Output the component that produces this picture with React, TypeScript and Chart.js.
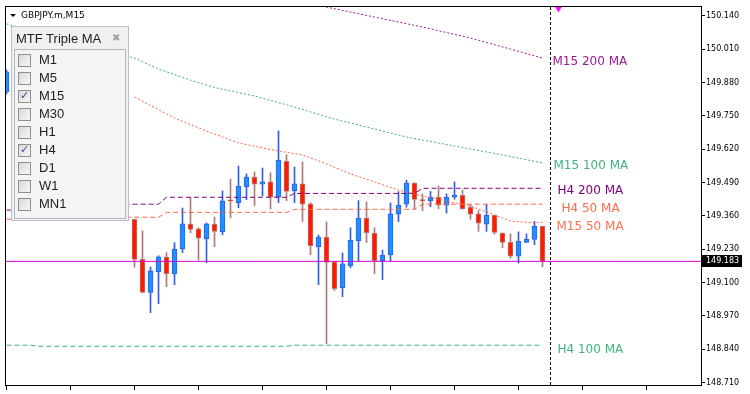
import React, { useEffect, useRef } from 'react';
import { Chart, registerables } from 'chart.js';

Chart.register(...registerables);

// ---- axis ----
const Y_TICKS = [150.14, 150.01, 149.88, 149.75, 149.62, 149.49, 149.36, 149.23, 149.1, 148.97, 148.84, 148.71];
const Y_MAX = 150.1751;
const Y_MIN = 148.7008;
const X_MIN = -1 / 16;
const X_MAX = X_MIN + 695 / 8;
const X_TICKS = [0, 8, 16, 24, 32, 40, 48, 56, 64, 72, 80];

// ---- candles (bar index 0..67, bars 1..15 are hidden behind the panel) ----
const OPEN = [149.844, null, null, null, null, null, null, null, null, null, null, null, null, null, null, null,
  149.347, 149.191, 149.062, 149.143, 149.200, 149.135, 149.232, 149.328, 149.310, 149.271,
  149.328, 149.299, 149.420, 149.412, 149.474, 149.512, 149.484, 149.493, 149.433, 149.573,
  149.459, 149.485, 149.407, 149.240, 149.278, 149.181, 149.080, 149.166, 149.264, 149.352,
  149.293, 149.186, 149.209, 149.367, 149.406, 149.488, 149.421, 149.420, 149.433, 149.402,
  149.433, 149.441, 149.394, 149.368, 149.328, 149.363, 149.293, 149.257, 149.203, 149.257,
  149.269, 149.320];
const HIGH = [149.929, null, null, null, null, null, null, null, null, null, null, null, null, null, null, null,
  149.347, 149.302, 149.161, 149.205, 149.217, 149.256, 149.391, 149.433, 149.314, 149.333,
  149.356, 149.458, 149.504, 149.555, 149.524, 149.532, 149.547, 149.529, 149.692, 149.599,
  149.551, 149.571, 149.412, 149.286, 149.337, 149.181, 149.216, 149.314, 149.420, 149.415,
  149.314, 149.227, 149.411, 149.455, 149.500, 149.490, 149.446, 149.456, 149.477, 149.446,
  149.493, 149.461, 149.404, 149.381, 149.404, 149.364, 149.294, 149.290, 149.298, 149.290,
  149.339, 149.321];
const LOW = [149.836, null, null, null, null, null, null, null, null, null, null, null, null, null, null, null,
  149.160, 149.060, 148.983, 149.018, 149.084, 149.092, 149.217, 149.295, 149.188, 149.178,
  149.240, 149.287, 149.353, 149.392, 149.424, 149.400, 149.438, 149.388, 149.412, 149.420,
  149.412, 149.338, 149.209, 149.092, 148.862, 149.069, 149.045, 149.158, 149.183, 149.256,
  149.135, 149.112, 149.183, 149.338, 149.394, 149.386, 149.381, 149.396, 149.388, 149.371,
  149.425, 149.386, 149.347, 149.300, 149.300, 149.289, 149.236, 149.195, 149.176, 149.257,
  149.248, 149.162];
const CLOSE = [149.922, null, null, null, null, null, null, null, null, null, null, null, null, null, null, null,
  149.191, 149.062, 149.146, 149.201, 149.135, 149.231, 149.329, 149.308, 149.273, 149.329,
  149.300, 149.419, 149.419, 149.477, 149.512, 149.484, 149.493, 149.433, 149.578, 149.456,
  149.485, 149.406, 149.244, 149.278, 149.179, 149.077, 149.173, 149.266, 149.352, 149.295,
  149.186, 149.208, 149.368, 149.402, 149.488, 149.425, 149.420, 149.433, 149.402, 149.433,
  149.442, 149.388, 149.367, 149.332, 149.363, 149.296, 149.257, 149.203, 149.261, 149.269,
  149.320, 149.183];

const BID = 149.183;
const NOW_LINE_BAR = 68;
const SHIFT_MARKER_BAR = 69;

// ---- M15 moving averages (read at selected bars) ----
const M15_200_BARS = [38, 40, 46, 52, 58, 63, 67];
const M15_200_VALUES = [150.191, 150.175, 150.136, 150.097, 150.054, 150.011, 149.976];
const M15_100_BARS = [0, 16, 19, 23, 26, 31, 36, 41, 45, 50, 56, 62, 67];
const M15_100_VALUES = [150.109, 149.976, 149.933, 149.890, 149.861, 149.828, 149.785, 149.738, 149.707, 149.668, 149.633, 149.598, 149.567];
const M15_50_BARS = [16, 21, 25, 29, 33, 37, 40, 43, 46, 49, 52, 55, 58, 61, 63, 66, 67];
const M15_50_VALUES = [149.824, 149.742, 149.691, 149.645, 149.619, 149.598, 149.563, 149.524, 149.493, 149.461, 149.438, 149.418, 149.399, 149.364, 149.340, 149.333, 149.336];

// ---- H4 moving averages (one value per H4 bar) ----
const H4_BLOCK_START = [0, 4, 20, 36, 52];
const LAST_BAR = 67;
const H4_200_VALUES = [149.383, 149.406, 149.433, 149.448, 149.468];
const H4_100_VALUES = [148.856, 148.852, 148.852, 148.856, 148.856];
const H4_50_VALUES = [149.348, 149.355, 149.374, 149.386, 149.406];

const LABELS = ['M15 200 MA', 'M15 100 MA', 'H4 200 MA', 'H4 50 MA', 'M15 50 MA', 'H4 100 MA'];
const PANEL_ITEMS = ['M1', 'M5', 'M15', 'M30', 'H1', 'H4', 'D1', 'W1', 'MN1'];
const PANEL_CHECKED = [false, false, true, false, false, true, false, false, false];

// ---- styles ----
const C_M15_200 = '#9a1a9a';
const C_H4_200 = '#800080';
const C_100 = '#3cb371';
const C_50 = '#ff6347';
const C_BID = '#d800d8';
const BULL_FILL = '#1e90ff';
const BULL_LINE = '#2f5fe8';
const BEAR_FILL = '#ff1a00';
const BEAR_LINE = '#b07a76';
const LABEL_STYLE = [
  { color: C_M15_200, dx: 2, dy: 4 },
  { color: '#3fb47e', dx: 3, dy: 2.5 },
  { color: C_H4_200, dx: 7, dy: 3 },
  { color: '#ff6a4a', dx: 11, dy: 4.5 },
  { color: '#ff6f50', dx: 6, dy: 5 },
  { color: '#3fb47e', dx: 7, dy: 4.3 },
];

const toPoints = (bars: number[], vals: number[]) => bars.map((b, k) => ({ x: b, y: vals[k] }));
const h4Points = (vals: number[]) => {
  const pts: { x: number; y: number }[] = [];
  for (let b = 0; b <= LAST_BAR; b++) {
    let k = 0;
    for (let j = 0; j < H4_BLOCK_START.length; j++) if (b >= H4_BLOCK_START[j]) k = j;
    pts.push({ x: b, y: vals[k] });
  }
  return pts;
};

const candleBars: number[] = [];
OPEN.forEach((o, i) => { if (o != null) candleBars.push(i); });
const isBull = (i: number) => (CLOSE[i] as number) > (OPEN[i] as number);

const FONT = 'DejaVu Sans';

export default function App() {
  const ref = useRef<HTMLCanvasElement>(null);

  useEffect(() => {
    Chart.defaults.font.family = FONT;
    const lastValues = [
      M15_200_VALUES[M15_200_VALUES.length - 1],
      M15_100_VALUES[M15_100_VALUES.length - 1],
      H4_200_VALUES[H4_200_VALUES.length - 1],
      H4_50_VALUES[H4_50_VALUES.length - 1],
      M15_50_VALUES[M15_50_VALUES.length - 1],
      H4_100_VALUES[H4_100_VALUES.length - 1],
    ];

    const overlay = {
      id: 'overlay',
      afterDatasetsDraw(chart: any) {
        const { ctx, scales } = chart;
        const xs = scales.x, ys = scales.y;
        ctx.save();
        ctx.font = `12px "${FONT}"`;
        ctx.textBaseline = 'middle';
        ctx.textAlign = 'left';
        LABELS.forEach((t, k) => {
          const st = LABEL_STYLE[k];
          ctx.fillStyle = st.color;
          ctx.fillText(t, xs.getPixelForValue(NOW_LINE_BAR) + st.dx, ys.getPixelForValue(lastValues[k]) + st.dy);
        });
        ctx.restore();
      },
      afterDraw(chart: any) {
        const { ctx, chartArea: a, scales } = chart;
        ctx.save();
        ctx.strokeStyle = '#000';
        ctx.lineWidth = 1;
        ctx.strokeRect(Math.floor(a.left) - 0.5, Math.floor(a.top) - 0.5, Math.round(a.right - a.left) + 1, Math.round(a.bottom - a.top) + 1);
        // bid price box
        const y = scales.y.getPixelForValue(BID);
        ctx.fillStyle = '#000';
        ctx.fillRect(a.right + 1, Math.round(y) - 6, 40, 12);
        ctx.fillStyle = '#fff';
        ctx.font = `8px "${FONT}"`;
        ctx.textBaseline = 'middle';
        ctx.fillText(BID.toFixed(3), a.right + 5, y);
        ctx.restore();
      },
    };

    const lineBase = { type: 'line', pointRadius: 0, borderWidth: 1, tension: 0, fill: false };

    const chart = new Chart(ref.current as HTMLCanvasElement, {
      type: 'bar',
      data: {
        datasets: [
          {
            ...lineBase, label: 'shift', showLine: false, order: 0,
            data: [{ x: SHIFT_MARKER_BAR, y: Y_MAX }],
            pointRadius: 5.5, pointStyle: 'triangle', rotation: 180,
            pointBackgroundColor: '#ff00ff', pointBorderWidth: 0, borderColor: '#ff00ff',
          },
          { ...lineBase, label: 'now', order: 1, borderColor: '#000', borderDash: [3, 2], data: [{ x: NOW_LINE_BAR, y: Y_MIN }, { x: NOW_LINE_BAR, y: Y_MAX }] },
          { ...lineBase, label: 'bid', order: 2, borderColor: C_BID, data: [{ x: X_MIN, y: BID }, { x: X_MAX, y: BID }] },
          { ...lineBase, label: 'M15 200 MA', order: 3, borderColor: C_M15_200, borderDash: [2, 2], data: toPoints(M15_200_BARS, M15_200_VALUES) },
          { ...lineBase, label: 'M15 100 MA', order: 3, borderColor: C_100, borderDash: [2, 2], data: toPoints(M15_100_BARS, M15_100_VALUES) },
          { ...lineBase, label: 'M15 50 MA', order: 3, borderColor: C_50, borderDash: [2, 2], data: toPoints(M15_50_BARS, M15_50_VALUES) },
          { ...lineBase, label: 'H4 200 MA', order: 3, borderColor: C_H4_200, borderDash: [5, 3], data: h4Points(H4_200_VALUES) },
          { ...lineBase, label: 'H4 100 MA', order: 3, borderColor: C_100, borderDash: [5, 3], data: h4Points(H4_100_VALUES) },
          { ...lineBase, label: 'H4 50 MA', order: 3, borderColor: C_50, borderDash: [5, 3], data: h4Points(H4_50_VALUES) },
          {
            type: 'bar', label: 'body', order: 8, grouped: false, barThickness: 5, minBarLength: 1,
            borderWidth: 1, borderSkipped: false,
            data: candleBars.map((i) => ({ x: i, y: [OPEN[i], CLOSE[i]] })),
            backgroundColor: (c: any) => (isBull(candleBars[c.dataIndex]) ? BULL_FILL : BEAR_FILL),
            borderColor: (c: any) => (isBull(candleBars[c.dataIndex]) ? BULL_LINE : BEAR_LINE),
          },
          {
            type: 'bar', label: 'wick', order: 9, grouped: false, barThickness: 1, borderWidth: 0,
            data: candleBars.map((i) => ({ x: i, y: [LOW[i], HIGH[i]] })),
            backgroundColor: (c: any) => (isBull(candleBars[c.dataIndex]) ? BULL_LINE : BEAR_LINE),
          },
        ] as any,
      },
      options: {
        responsive: false,
        devicePixelRatio: 1,
        animation: false,
        events: [],
        layout: { padding: { left: 6, top: 7, right: 0, bottom: 0 } },
        plugins: { legend: { display: false }, tooltip: { enabled: false }, title: { display: false } },
        scales: {
          x: {
            type: 'linear', position: 'bottom', min: X_MIN, max: X_MAX, offset: false,
            afterBuildTicks: (s: any) => { s.ticks = X_TICKS.map((v) => ({ value: v })); },
            afterFit: (s: any) => { s.height = 9; },
            ticks: { autoSkip: false, callback: () => '' },
            grid: { drawOnChartArea: false, drawTicks: true, tickLength: 5, color: '#000', offset: false },
            border: { display: true, color: '#000' },
          },
          y: {
            type: 'linear', position: 'right', min: Y_MIN, max: Y_MAX,
            afterBuildTicks: (s: any) => { s.ticks = Y_TICKS.map((v) => ({ value: v })); },
            afterFit: (s: any) => { s.width = 49; },
            ticks: {
              autoSkip: false, padding: 1, color: '#000',
              font: { family: FONT, size: 8 },
              callback: (v: any) => Number(v).toFixed(3),
            },
            grid: { drawOnChartArea: false, drawTicks: true, tickLength: 4, color: '#000' },
            border: { display: true, color: '#000' },
          },
        },
      } as any,
      plugins: [overlay],
    } as any);
    return () => chart.destroy();
  }, []);

  const panelFont = '"Liberation Sans", Arial, sans-serif';

  return (
    <div style={{ position: 'fixed', left: 0, top: 0, width: 750, height: 394, background: '#fff', overflow: 'hidden' }}>
      <canvas ref={ref} width={750} height={394} style={{ display: 'block', width: 750, height: 394 }} />
      {/* symbol title */}
      <div style={{ position: 'absolute', left: 10, top: 14, width: 0, height: 0, borderLeft: '3px solid transparent', borderRight: '3px solid transparent', borderTop: '3px solid #000' }} />
      <div style={{ position: 'absolute', left: 21, top: 10, fontFamily: FONT, fontSize: 9, lineHeight: '11px', color: '#000', whiteSpace: 'nowrap' }}>GBPJPY.m,M15</div>
      {/* panel */}
      <div style={{ position: 'absolute', left: 11, top: 26, width: 118, height: 195, boxSizing: 'border-box', background: '#f0f0f0', border: '1px solid #b7c0cb' }}>
        <div style={{ position: 'absolute', left: 4, top: 4, fontFamily: panelFont, fontSize: 13, lineHeight: '15px', color: '#1e1e1e', whiteSpace: 'nowrap', width: 92, overflow: 'hidden' }}>MTF Triple MA</div>
        <div style={{ position: 'absolute', left: 100, top: 6, fontFamily: FONT, fontSize: 10, lineHeight: '10px', color: '#a2a2a2' }}>✖</div>
        <div style={{ position: 'absolute', left: 2, top: 22, width: 112, height: 170, boxSizing: 'border-box', background: '#f4f4f4', border: '1px solid #aeb8c4' }}>
          {PANEL_ITEMS.map((t, k) => (
            <div key={t} style={{ position: 'absolute', left: 0, top: 1 + 18 * k, height: 18, width: 110 }}>
              <div style={{ position: 'absolute', left: 3, top: 3, width: 13, height: 13, boxSizing: 'border-box', border: '1px solid #8e8f8f', background: 'linear-gradient(135deg, #d8d8d8, #f8f8f8)' }}>
                {PANEL_CHECKED[k] ? (
                  <div style={{ position: 'absolute', left: 1, top: -1, fontFamily: FONT, fontSize: 11, lineHeight: '12px', color: '#3b4a9c' }}>✓</div>
                ) : null}
              </div>
              <div style={{ position: 'absolute', left: 24, top: 0, fontFamily: panelFont, fontSize: 13, lineHeight: '18px', color: '#1e1e1e', whiteSpace: 'nowrap' }}>{t}</div>
            </div>
          ))}
        </div>
      </div>
    </div>
  );
}
